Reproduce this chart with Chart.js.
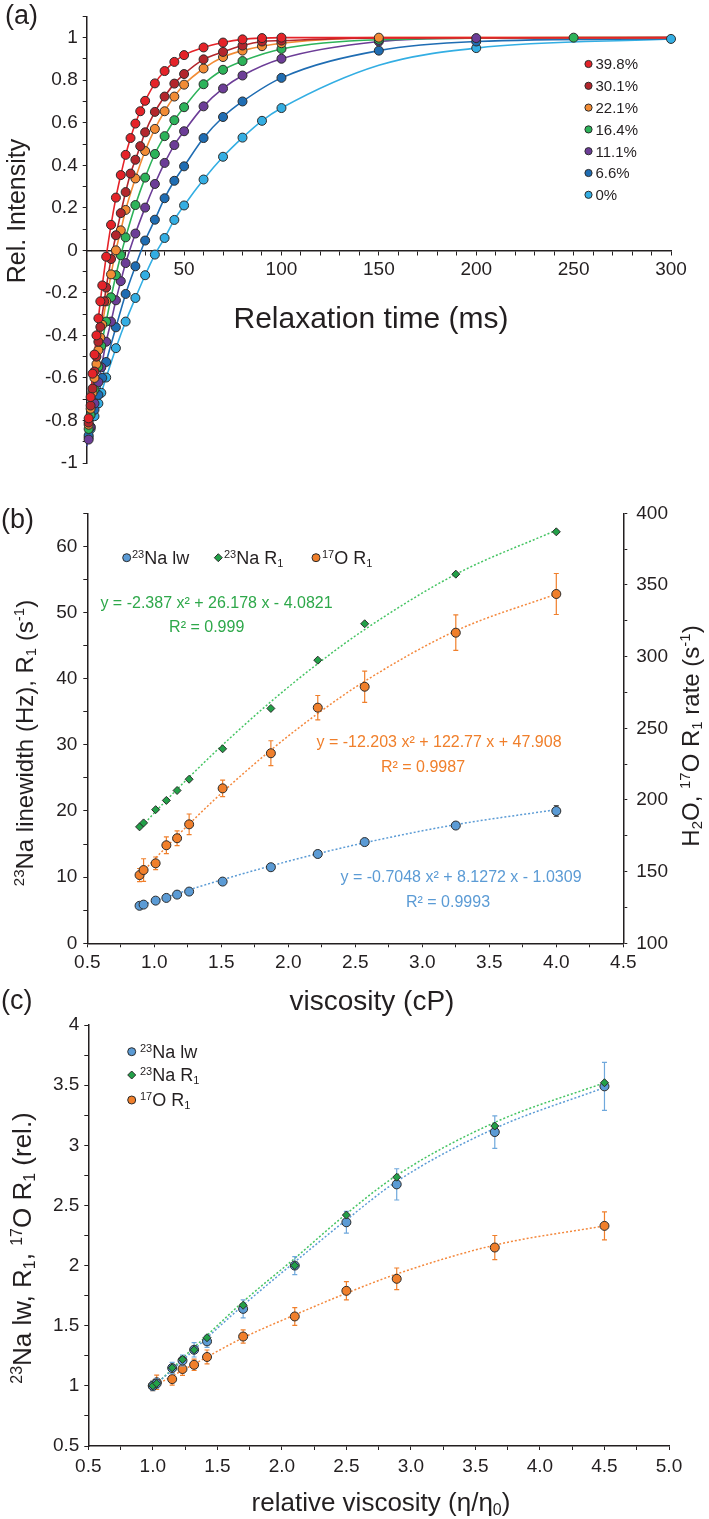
<!DOCTYPE html>
<html>
<head>
<meta charset="utf-8">
<script src="https://cdn.jsdelivr.net/npm/chart.js@4.4.1/dist/chart.umd.min.js"></script>
<style>
  html, body { margin: 0; padding: 0; background: #fff; }
  #wrap { position: relative; width: 709px; height: 1519px; overflow: hidden; }
  canvas { position: absolute; left: 0; }
</style>
</head>
<body>
<div id="wrap">
  <canvas id="chartA" width="709" height="480" style="top:0px"></canvas>
  <canvas id="chartB" width="709" height="545" style="top:480px"></canvas>
  <canvas id="chartC" width="709" height="544" style="top:975px"></canvas>
</div>
<script>
const FONT = '"Liberation Sans", Arial, Helvetica, sans-serif'
const INK = '#231f20'
Chart.defaults.font.family = FONT
Chart.defaults.color = INK

// ---------- (a) inversion recovery curves ----------
const t398 = [1, 2, 3, 4, 5, 6, 7, 8, 10, 12.5, 15, 17.5, 20, 22.5, 25, 27.5, 30, 35, 40, 45, 50, 60, 70, 80, 90, 100]
const i398 = [-0.79, -0.69, -0.58, -0.49, -0.40, -0.32, -0.24, -0.165, -0.03, 0.12, 0.248, 0.354, 0.449, 0.528, 0.596, 0.654, 0.703, 0.785, 0.843, 0.886, 0.918, 0.954, 0.977, 0.992, 0.998, 1.0]
const t301 = [1, 2, 3, 4, 5, 6, 7, 9, 10, 12.5, 15, 17.5, 20, 22.5, 25, 27.5, 30, 35, 40, 45, 50, 60, 70, 80, 90, 100]
const i301 = [-0.81, -0.73, -0.65, -0.57, -0.50, -0.43, -0.36, -0.24, -0.175, -0.041, 0.071, 0.175, 0.274, 0.361, 0.426, 0.49, 0.555, 0.651, 0.723, 0.784, 0.829, 0.898, 0.933, 0.963, 0.982, 0.986]
const t221 = [1, 2, 3, 4, 5, 6, 7, 8, 10, 12.5, 15, 17.5, 20, 25, 30, 35, 40, 45, 50, 60, 70, 80, 90, 100, 150]
const i221 = [-0.82, -0.745, -0.67, -0.60, -0.535, -0.47, -0.41, -0.35, -0.24, -0.113, 0.0, 0.094, 0.19, 0.338, 0.467, 0.571, 0.654, 0.723, 0.779, 0.855, 0.909, 0.939, 0.96, 0.974, 1.0]
const t164 = [1, 2, 4, 6, 7.5, 10, 12.5, 15, 17.5, 20, 25, 30, 35, 40, 45, 50, 60, 70, 80, 100, 150, 250]
const i164 = [-0.84, -0.775, -0.655, -0.548, -0.45, -0.335, -0.221, -0.117, -0.023, 0.061, 0.213, 0.342, 0.453, 0.537, 0.612, 0.673, 0.781, 0.849, 0.89, 0.947, 0.99, 1.0]
const t111 = [1, 2, 4, 6, 7.5, 10, 12.5, 15, 17.5, 20, 25, 30, 35, 40, 45, 50, 60, 70, 80, 100, 150, 200]
const i111 = [-0.89, -0.83, -0.72, -0.62, -0.55, -0.43, -0.335, -0.235, -0.145, -0.06, 0.079, 0.201, 0.312, 0.411, 0.495, 0.56, 0.677, 0.761, 0.822, 0.901, 0.982, 0.998]
const t66 = [1, 2, 4, 6, 8, 10, 15, 20, 25, 30, 35, 40, 45, 50, 60, 70, 80, 100, 150, 200]
const i66 = [-0.87, -0.83, -0.75, -0.68, -0.60, -0.525, -0.362, -0.205, -0.075, 0.046, 0.144, 0.245, 0.327, 0.395, 0.528, 0.627, 0.70, 0.811, 0.939, 0.982]
const t0 = [1, 2, 4, 6, 7.5, 10, 15, 20, 25, 30, 35, 40, 45, 50, 60, 70, 80, 90, 100, 200, 300]
const i0 = [-0.88, -0.84, -0.78, -0.72, -0.67, -0.598, -0.46, -0.335, -0.224, -0.117, -0.02, 0.058, 0.143, 0.211, 0.333, 0.44, 0.53, 0.609, 0.669, 0.951, 0.994]

const c398T = [0, 150, 300], c398I = [-0.9, 1.0, 1.0]
const c301T = [0, 150, 300], c301I = [-0.9, 0.999, 1.0]
const c221T = [0, 300], c221I = [-0.9, 1.0]
const c164T = [0, 300], c164I = [-0.9, 1.0]
const c111T = [0, 300], c111I = [-0.92, 1.0]
const c66T = [0, 300], c66I = [-0.92, 0.995]
const c0T = [0, 150], c0I = [-0.92, 0.87]

const relaxLabels = ['39.8%', '30.1%', '22.1%', '16.4%', '11.1%', '6.6%', '0%']
const relaxColors = ['#e52329', '#b3262c', '#f28c35', '#2db35a', '#6c3d97', '#1f6db3', '#33aee3']

// ---------- (b) vs viscosity ----------
const visc = [0.89, 0.92, 1.01, 1.09, 1.17, 1.26, 1.51, 1.87, 2.22, 2.57, 3.25, 4.0]
const naLw = [5.67, 5.85, 6.45, 6.86, 7.36, 7.82, 9.33, 11.5, 13.5, 15.3, 17.8, 20.0]
const naLwErr = [0.2, 0.2, 0.2, 0.2, 0.2, 0.2, 0.25, 0.3, 0.3, 0.4, 0.4, 0.8]
const naR1 = [17.6, 18.2, 20.2, 21.6, 23.1, 24.8, 29.4, 35.5, 42.8, 48.3, 55.8, 62.2]
const oR1 = [147.6, 151.1, 155.8, 168.4, 173.3, 183.0, 208.1, 232.6, 264.4, 279.0, 316.7, 343.7]
const oR1Err = [4.6, 7.9, 4.4, 5.8, 5.2, 7.2, 5.8, 8.7, 8.5, 10.9, 12.4, 14.3]
// dotted trend lines
const naLwFit = [5.64, 5.85, 6.46, 6.99, 7.51, 8.09, 9.63, 11.70, 13.54, 15.20, 17.94, 20.20]
const naR1Fit = [17.33, 17.98, 19.92, 21.62, 23.28, 25.11, 29.99, 36.52, 42.27, 47.43, 55.78, 62.44]
const oR1Fit = [147.5, 150.5, 159.5, 167.2, 174.8, 183.2, 205.5, 234.8, 260.3, 282.8, 318.0, 343.7]

// ---------- (c) vs relative viscosity ----------
const relVisc = [1.0, 1.03, 1.15, 1.23, 1.32, 1.42, 1.70, 2.10, 2.50, 2.89, 3.65, 4.50]
const relLw = [1.0, 1.02, 1.148, 1.21, 1.30, 1.37, 1.64, 2.0, 2.36, 2.675, 3.11, 3.49]
const relLwErr = [0.04, 0.04, 0.047, 0.045, 0.06, 0.05, 0.074, 0.075, 0.09, 0.13, 0.135, 0.2]
const relNaR1 = [1.0, 1.02, 1.15, 1.22, 1.30, 1.40, 1.67, 2.0, 2.42, 2.735, 3.16, 3.52]
const relOR1 = [1.0, 1.03, 1.056, 1.14, 1.175, 1.24, 1.41, 1.577, 1.79, 1.89, 2.15, 2.33]
const relOR1Err = [0.04, 0.06, 0.05, 0.053, 0.047, 0.058, 0.055, 0.074, 0.076, 0.09, 0.10, 0.117]
const relLwFit = [0.99, 1.02, 1.13, 1.21, 1.30, 1.40, 1.67, 2.03, 2.38, 2.70, 3.14, 3.48]
const relNaR1Fit = [0.99, 1.02, 1.14, 1.23, 1.32, 1.42, 1.70, 2.06, 2.43, 2.75, 3.19, 3.52]
const relOR1Fit = [0.99, 1.01, 1.08, 1.13, 1.18, 1.24, 1.40, 1.59, 1.77, 1.93, 2.17, 2.33]

const BLUE = '#5b9bd5', GREEN = '#22a048', ORANGE = '#f07f2b'
const GREEN_LINE = '#45c463', ORANGE_LINE = '#f4883c', BLUE_LINE = '#5b9bd5'

const xy = (xs, ys) => xs.map((x, i) => ({ x: x, y: ys[i] }))
const curve = (xs, ys, cx, cy) => xy(xs.concat(cx), ys.concat(cy)).sort((a, b) => a.x - b.x)

// text with ^{sup} and _{sub} parts, y is the visual middle
function drawRich(ctx, it) {
  const parts = []
  const re = /(\^|_)\{([^}]*)\}/g
  let last = 0, m
  while ((m = re.exec(it.text))) {
    if (m.index > last) parts.push({ t: it.text.slice(last, m.index), k: 0 })
    parts.push({ t: m[2], k: m[1] === '^' ? 1 : -1 })
    last = re.lastIndex
  }
  if (last < it.text.length) parts.push({ t: it.text.slice(last), k: 0 })
  const size = it.size, small = Math.round(size * 0.62)
  ctx.save()
  ctx.translate(it.x, it.y)
  ctx.rotate(it.rot || 0)
  ctx.fillStyle = it.color || INK
  ctx.textBaseline = 'alphabetic'
  ctx.textAlign = 'left'
  let w = 0
  parts.forEach(p => {
    ctx.font = (p.k ? small : size) + 'px ' + FONT
    p.w = ctx.measureText(p.t).width
    w += p.w
  })
  let cx = it.align === 'left' ? 0 : -w / 2
  const base = size * 0.36
  parts.forEach(p => {
    ctx.font = (p.k ? small : size) + 'px ' + FONT
    const dy = p.k === 1 ? -size * 0.36 : p.k === -1 ? size * 0.14 : 0
    ctx.fillText(p.t, cx, base + dy)
    cx += p.w
  })
  ctx.restore()
}

function drawMarker(ctx, m) {
  ctx.save()
  ctx.fillStyle = m.color
  ctx.strokeStyle = '#2b2b2b'
  ctx.lineWidth = 1
  ctx.beginPath()
  if (m.marker === 'diamond') {
    ctx.moveTo(m.x, m.y - m.r)
    ctx.lineTo(m.x + m.r, m.y)
    ctx.lineTo(m.x, m.y + m.r)
    ctx.lineTo(m.x - m.r, m.y)
    ctx.closePath()
  } else {
    ctx.arc(m.x, m.y, m.r, 0, Math.PI * 2)
  }
  ctx.fill()
  ctx.stroke()
  ctx.restore()
}

function notes(items) {
  return {
    id: 'notes',
    afterDraw(chart) {
      items.forEach(it => it.marker ? drawMarker(chart.ctx, it) : drawRich(chart.ctx, it))
    }
  }
}

// vertical error bars, drawn under the dataset's own markers
const errorBars = {
  id: 'errorBars',
  beforeDatasetDraw(chart, args) {
    const ds = chart.data.datasets[args.index]
    if (!ds.errors) return
    const meta = args.meta
    const ys = chart.scales[meta.yAxisID]
    const ctx = chart.ctx
    ctx.save()
    ctx.strokeStyle = ds.errorColor
    ctx.lineWidth = 1.2
    ds.data.forEach((pt, i) => {
      const e = ds.errors[i]
      if (!e) return
      const px = meta.data[i].x
      const top = ys.getPixelForValue(pt.y + e)
      const bot = ys.getPixelForValue(pt.y - e)
      ctx.beginPath()
      ctx.moveTo(px, top); ctx.lineTo(px, bot)
      ctx.moveTo(px - 2.5, top); ctx.lineTo(px + 2.5, top)
      ctx.moveTo(px - 2.5, bot); ctx.lineTo(px + 2.5, bot)
      ctx.stroke()
    })
    ctx.restore()
  }
}

function axis(o) {
  return {
    type: 'linear',
    position: o.pos,
    min: o.min,
    max: o.max,
    afterFit: o.fit,
    border: { display: true, color: INK, width: 1.5 },
    grid: { display: true, drawOnChartArea: false, drawTicks: true, tickLength: 4, color: INK, tickColor: INK, tickWidth: 1 },
    ticks: { stepSize: o.step, autoSkip: false, maxRotation: 0, padding: o.pad, color: INK, font: { size: 19 }, callback: o.label }
  }
}

const baseOptions = {
  responsive: false,
  animation: false,
  events: [],
  plugins: { legend: { display: false }, tooltip: { enabled: false } }
}

// ----- chart (a) -----
const relaxT = [t398, t301, t221, t164, t111, t66, t0]
const relaxI = [i398, i301, i221, i164, i111, i66, i0]
const relaxCT = [c398T, c301T, c221T, c164T, c111T, c66T, c0T]
const relaxCI = [c398I, c301I, c221I, c164I, c111I, c66I, c0I]

const dsA = []
relaxLabels.forEach((lab, k) => {
  dsA.push({
    label: lab,
    data: xy(relaxT[k], relaxI[k]),
    backgroundColor: relaxColors[k],
    borderColor: '#2b2b2b',
    pointBorderWidth: 1,
    pointRadius: 4.5,
    showLine: false,
    clip: false,
    order: 0
  })
})
relaxLabels.forEach((lab, k) => {
  dsA.push({
    label: lab + ' fit',
    data: curve(relaxT[k], relaxI[k], relaxCT[k], relaxCI[k]),
    borderColor: relaxColors[k],
    borderWidth: 1.6,
    pointRadius: 0,
    showLine: true,
    cubicInterpolationMode: 'monotone',
    order: 1
  })
})

const legendA = []
relaxLabels.forEach((lab, k) => {
  legendA.push({ marker: 'circle', x: 588.5, y: 64 + k * 21.8, r: 3.6, color: relaxColors[k] })
  legendA.push({ text: lab, x: 595.5, y: 64 + k * 21.8, size: 15, align: 'left' })
})

new Chart(document.getElementById('chartA'), {
  type: 'scatter',
  data: { datasets: dsA },
  options: {
    ...baseOptions,
    layout: { padding: { left: 0, right: 38, top: 2.4, bottom: 17 } },
    scales: {
      x: axis({ pos: { y: 0 }, min: 0, max: 300, step: 10, pad: 4,
        label: v => (v % 50 === 0 && v !== 0) ? String(v) : '' }),
      y: axis({ pos: 'left', min: -1, max: 1.1, step: 0.1, pad: 5,
        fit: s => { s.width = 86.7 },
        label: v => Math.round(v * 10) % 2 === 0 ? String(Math.round(v * 10) / 10) : '' })
    }
  },
  plugins: [notes([
    { text: '(a)', x: 5, y: 14, size: 27, align: 'left' },
    { text: 'Rel. Intensity', x: 16, y: 211, size: 25, rot: -Math.PI / 2 },
    { text: 'Relaxation time (ms)', x: 371, y: 317, size: 30 }
  ].concat(legendA))]
})

// ----- chart (b) -----
const dotted = (data, color, axisId) => ({
  data: data, borderColor: color, borderWidth: 1.5, borderDash: [2, 2], pointRadius: 0,
  showLine: true, cubicInterpolationMode: 'monotone', yAxisID: axisId, order: 2
})

new Chart(document.getElementById('chartB'), {
  type: 'scatter',
  data: {
    datasets: [
      { label: '23Na lw', data: xy(visc, naLw), errors: naLwErr, errorColor: '#555',
        backgroundColor: BLUE, borderColor: '#2b2b2b', pointBorderWidth: 1, pointRadius: 4.5, yAxisID: 'y', clip: false, order: 0 },
      { label: '23Na R1', data: xy(visc, naR1), pointStyle: 'rectRot',
        backgroundColor: GREEN, borderColor: '#2b2b2b', pointBorderWidth: 1, pointRadius: 4, yAxisID: 'y', clip: false, order: 0 },
      { label: '17O R1', data: xy(visc, oR1), errors: oR1Err, errorColor: ORANGE,
        backgroundColor: ORANGE, borderColor: '#2b2b2b', pointBorderWidth: 1, pointRadius: 4.5, yAxisID: 'y1', clip: false, order: 0 },
      dotted(xy(visc, naLwFit), BLUE_LINE, 'y'),
      dotted(xy(visc, naR1Fit), GREEN_LINE, 'y'),
      dotted(xy(visc, oR1Fit), ORANGE_LINE, 'y1')
    ]
  },
  options: {
    ...baseOptions,
    layout: { padding: { left: 0, right: 0, top: 33.3, bottom: 0 } },
    scales: {
      x: axis({ pos: 'bottom', min: 0.5, max: 4.5, step: 0.25, pad: 4,
        fit: s => { s.height = 81.7 },
        label: v => Math.round(v * 4) % 2 === 0 ? v.toFixed(1) : '' }),
      y: axis({ pos: 'left', min: 0, max: 65, step: 5, pad: 6,
        fit: s => { s.width = 87.3 },
        label: v => v % 10 === 0 ? String(v) : '' }),
      y1: axis({ pos: 'right', min: 100, max: 400, step: 25, pad: 9,
        fit: s => { s.width = 85.7 },
        label: v => v % 50 === 0 ? String(v) : '' })
    }
  },
  plugins: [errorBars, notes([
    { text: '(b)', x: 1, y: 38.5, size: 27, align: 'left' },
    { text: '^{23}Na linewidth (Hz), R_{1} (s^{-1})', x: 24, y: 263, size: 24, rot: -Math.PI / 2 },
    { text: 'H_{2}O, ^{17}O R_{1} rate (s^{-1})', x: 690, y: 256, size: 24, rot: -Math.PI / 2 },
    { text: 'viscosity (cP)', x: 372, y: 520, size: 28 },
    { marker: 'circle', x: 126.7, y: 77.7, r: 4, color: BLUE },
    { text: '^{23}Na lw', x: 132, y: 77.7, size: 18, align: 'left' },
    { marker: 'diamond', x: 218.3, y: 77.7, r: 4, color: GREEN },
    { text: '^{23}Na R_{1}', x: 224, y: 77.7, size: 18, align: 'left' },
    { marker: 'circle', x: 316, y: 77.7, r: 4, color: ORANGE },
    { text: '^{17}O R_{1}', x: 322, y: 77.7, size: 18, align: 'left' },
    { text: 'y = -2.387 x² + 26.178 x - 4.0821', x: 216.5, y: 122.7, size: 16, color: '#2ea84a' },
    { text: 'R² = 0.999', x: 206.7, y: 146.7, size: 16, color: '#2ea84a' },
    { text: 'y = -12.203 x² + 122.77 x + 47.908', x: 439, y: 261.7, size: 16, color: ORANGE },
    { text: 'R² = 0.9987', x: 423, y: 286, size: 16, color: ORANGE },
    { text: 'y = -0.7048 x² + 8.1272 x - 1.0309', x: 461, y: 396.7, size: 16, color: BLUE },
    { text: 'R² = 0.9993', x: 448, y: 421.7, size: 16, color: BLUE }
  ])]
})

// ----- chart (c) -----
new Chart(document.getElementById('chartC'), {
  type: 'scatter',
  data: {
    datasets: [
      { label: '23Na R1', data: xy(relVisc, relNaR1), pointStyle: 'rectRot',
        backgroundColor: GREEN, borderColor: '#2b2b2b', pointBorderWidth: 1, pointRadius: 4, clip: false, order: 0 },
      { label: '23Na lw', data: xy(relVisc, relLw), errors: relLwErr, errorColor: '#6fa8dc',
        backgroundColor: BLUE, borderColor: '#2b2b2b', pointBorderWidth: 1, pointRadius: 4.5, clip: false, order: 1 },
      { label: '17O R1', data: xy(relVisc, relOR1), errors: relOR1Err, errorColor: ORANGE,
        backgroundColor: ORANGE, borderColor: '#2b2b2b', pointBorderWidth: 1, pointRadius: 4.5, clip: false, order: 1 },
      dotted(xy(relVisc, relLwFit), BLUE_LINE, 'y'),
      dotted(xy(relVisc, relNaR1Fit), GREEN_LINE, 'y'),
      dotted(xy(relVisc, relOR1Fit), ORANGE_LINE, 'y')
    ]
  },
  options: {
    ...baseOptions,
    layout: { padding: { left: 0, right: 40, top: 50, bottom: 0 } },
    scales: {
      x: axis({ pos: 'bottom', min: 0.5, max: 5.0, step: 0.25, pad: 5,
        fit: s => { s.height = 73 },
        label: v => Math.round(v * 4) % 2 === 0 ? v.toFixed(1) : '' }),
      y: axis({ pos: 'left', min: 0.5, max: 4, step: 0.25, pad: 5,
        fit: s => { s.width = 88.3 },
        label: v => Math.round(v * 4) % 2 === 0 ? String(v) : '' })
    }
  },
  plugins: [errorBars, notes([
    { text: '(c)', x: 1, y: 24.5, size: 27, align: 'left' },
    { text: '^{23}Na lw, R_{1}, ^{17}O R_{1} (rel.)', x: 22, y: 273, size: 26, rot: -Math.PI / 2 },
    { text: 'relative viscosity (η/η_{0})', x: 381, y: 526.7, size: 26 },
    { marker: 'circle', x: 131.7, y: 76.7, r: 4, color: BLUE },
    { text: '^{23}Na lw', x: 140, y: 76.7, size: 18, align: 'left' },
    { marker: 'diamond', x: 131.7, y: 100, r: 4, color: GREEN },
    { text: '^{23}Na R_{1}', x: 140, y: 100, size: 18, align: 'left' },
    { marker: 'circle', x: 131.7, y: 125, r: 4, color: ORANGE },
    { text: '^{17}O R_{1}', x: 140, y: 125, size: 18, align: 'left' }
  ])]
})
</script>
</body>
</html>
